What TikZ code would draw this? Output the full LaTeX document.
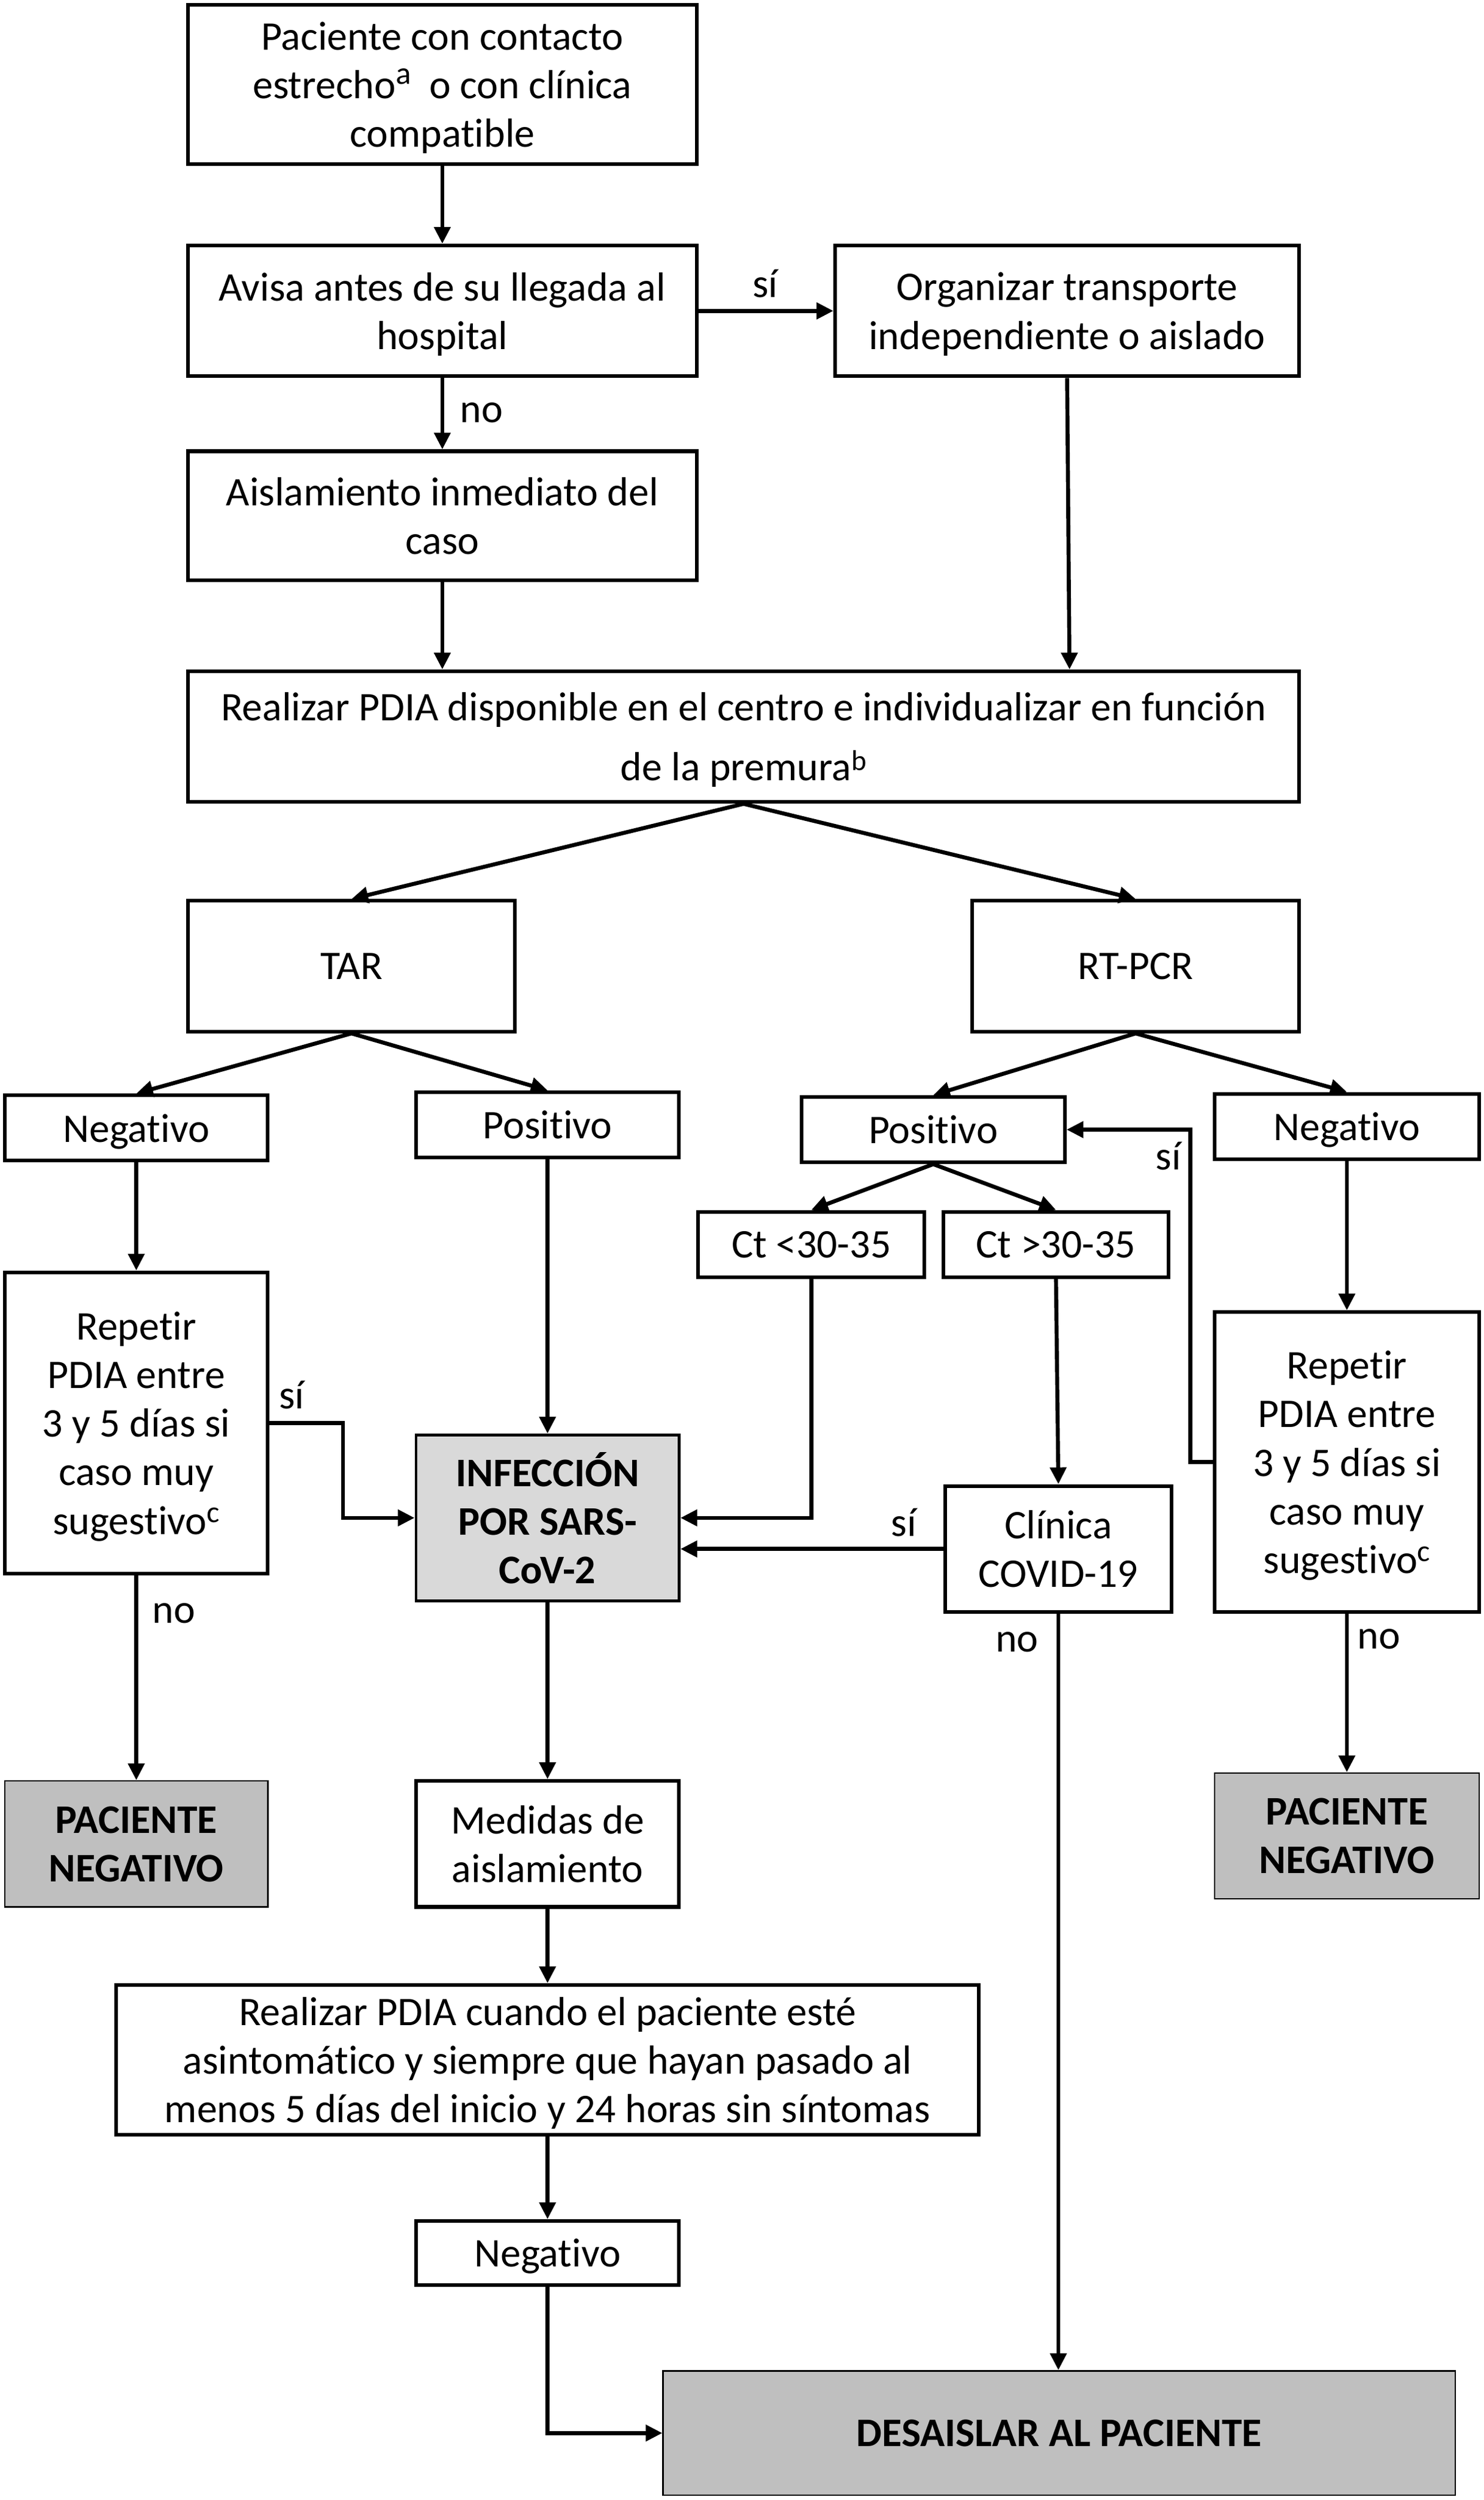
\documentclass[tikz,border=0pt]{standalone}
\usepackage{fontspec}
\setmainfont{Carlito}[Ligatures=NoCommon]
\usetikzlibrary{arrows.meta}
\definecolor{gA}{HTML}{D9D9D9}
\definecolor{gB}{HTML}{BFBFBF}
\newcommand{\mysup}[3]{\raisebox{#2}{\fontsize{#1}{#1}\selectfont #3}}
\begin{document}
\begin{tikzpicture}[x=1pt,y=-1pt,
  font=\fontsize{25.5}{30.5}\selectfont,
  box/.style={draw, line width=2.3pt, rectangle, align=center, inner sep=0pt, text depth=0pt},
  ibox/.style={box, fill=gA, line width=1.8pt, font=\fontsize{25.5}{30.5}\selectfont\bfseries},
  gbox/.style={box, fill=gB, line width=0.9pt, font=\fontsize{25.5}{30.5}\selectfont\bfseries},
  arr/.style={-{Triangle[length=10.5pt,width=10pt]}, line width=2.5pt},
  lab/.style={inner sep=0pt}]
\useasboundingbox (0,0) rectangle (931,1568);
% nodes
\node[box, minimum width=319pt, minimum height=100pt] (top) at (277.5,53)
  {Paciente con contacto\\ estrecho\mysup{20}{9pt}{a}\ \ o con clínica\\ compatible};
\node[box, minimum width=319pt, minimum height=82pt] (avisa) at (277.5,195)
  {Avisa antes de su llegada al\\ hospital};
\node[box, minimum width=291pt, minimum height=82pt] (org) at (669.5,195)
  {Organizar transporte\\ independiente\ o aislado};
\node[box, minimum width=319pt, minimum height=81pt] (aisl) at (277.5,323.5)
  {Aislamiento inmediato del\\ caso};
\node[box, minimum width=697pt, minimum height=82pt] (real) at (466.5,462)
  {Realizar PDIA disponible en el centro e individualizar en función\\[7pt] de la premura\mysup{18}{6.5pt}{b}};
\node[box, minimum width=205pt, minimum height=82pt] (tar) at (220.5,606) {TAR};
\node[box, minimum width=205pt, minimum height=82pt] (rtpcr) at (712.5,606) {RT-PCR};
\node[box, minimum width=165pt, minimum height=41pt] (negL) at (85.5,707.5) {Negativo};
\node[box, minimum width=165pt, minimum height=41pt] (posL) at (343.5,705.5) {Positivo};
\node[box, minimum width=165pt, minimum height=41pt] (posR) at (585.5,708.5) {Positivo};
\node[box, minimum width=166pt, minimum height=41pt] (negR) at (845,706.5) {Negativo};
\node[box, minimum width=142pt, minimum height=41pt] (ct1) at (509,780.5) {Ct <30-35};
\node[box, minimum width=141pt, minimum height=41pt] (ct2) at (662.5,780.5) {Ct >30-35};
\node[box, minimum width=165pt, minimum height=189pt] (repL) at (85.5,892.5)
  {Repetir\\ PDIA entre\\ 3 y 5 días si\\ caso muy\\ sugestivo\mysup{19}{7.5pt}{c}};
\node[ibox, minimum width=165pt, minimum height=104pt] (inf) at (343.5,952)
  {INFECCIÓN\\ POR SARS-\\ CoV-2};
\node[box, minimum width=142pt, minimum height=79pt] (clin) at (664,971.5)
  {Clínica\\ COVID-19};
\node[box, minimum width=166pt, minimum height=188pt] (repR) at (845,917)
  {Repetir\\ PDIA entre\\ 3 y 5 días si\\ caso muy\\ sugestivo\mysup{19}{7.5pt}{c}};
\node[gbox, minimum width=165pt, minimum height=79pt] (pnL) at (85.5,1156.5)
  {PACIENTE\\ NEGATIVO};
\node[gbox, minimum width=166pt, minimum height=79pt] (pnR) at (845,1151.5)
  {PACIENTE\\ NEGATIVO};
\node[box, minimum width=165pt, minimum height=79pt] (med) at (343.5,1156.5)
  {Medidas de\\ aislamiento};
\node[box, minimum width=541pt, minimum height=94pt] (real2) at (343.5,1292)
  {Realizar PDIA cuando el paciente esté\\ asintomático y siempre que hayan pasado al\\ menos 5 días del inicio y 24 horas sin síntomas};
\node[box, minimum width=165pt, minimum height=40pt] (negB) at (343.5,1413) {Negativo};
\node[gbox, minimum width=497pt, minimum height=78pt] (des) at (664.5,1526)
  {DESAISLAR AL PACIENTE};
% labels
\node[lab] (l1) at (480,178) {sí};
\node[lab] (l2) at (302,259) {no};
\node[lab] (l3) at (183,875) {sí};
\node[lab] (l4) at (109,1012) {no};
\node[lab] (l5) at (567,955) {sí};
\node[lab] (l6) at (638,1030) {no};
\node[lab] (l7) at (733,725) {sí};
\node[lab] (l8) at (865,1028) {no};
% connectors
\draw[arr] (top.south) -- (avisa.north);
\draw[arr] (avisa.east) -- (org.west);
\draw[arr] (avisa.south) -- (aisl.north);
\draw[arr] (aisl.south) -- (aisl.south |- real.north);
\draw[arr] (org.south) -- ([xshift=1.5pt]org.south |- real.north);
\draw[arr] (real.south) -- (tar.north);
\draw[arr] (real.south) -- (rtpcr.north);
\draw[arr] (tar.south) -- (negL.north);
\draw[arr] (tar.south) -- (posL.north);
\draw[arr] (rtpcr.south) -- (posR.north);
\draw[arr] (rtpcr.south) -- (negR.north);
\draw[arr] (posR.south) -- (ct1.north);
\draw[arr] (posR.south) -- (ct2.north);
\draw[arr] (negL.south) -- (repL.north);
\draw[arr] (posL.south) -- (inf.north);
\draw[arr] (repL.east) -- ++(46,0) |- (inf.west);
\draw[arr] (ct1.south) |- (inf.east);
\draw[arr] (clin.west) -- (inf.east |- clin.west);
\draw[arr] (ct2.south) -- (clin.north);
\draw[arr] (clin.south) -- (clin.south |- des.north);
\draw[arr] (negR.south) -- (repR.north);
\draw[arr] (repR.west) -- ++(-14,0) |- (posR.east);
\draw[arr] (repR.south) -- (pnR.north);
\draw[arr] (repL.south) -- (pnL.north);
\draw[arr] (inf.south) -- (med.north);
\draw[arr] (med.south) -- (real2.north);
\draw[arr] (real2.south) -- (negB.north);
\draw[arr] (negB.south) |- (des.west);
\end{tikzpicture}
\end{document}
